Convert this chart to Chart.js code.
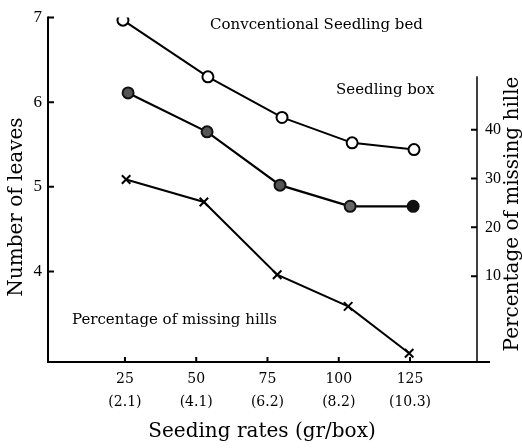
<!DOCTYPE html>
<html lang="en">
<head>
  <meta charset="UTF-8">
  <title>Seeding rates</title>
  <script src="https://cdn.jsdelivr.net/npm/chart.js"></script>
  <style>
    body { margin: 0; background: #fff; }
    #wrap { width: 522px; height: 448px; }
  </style>
</head>
<body>
  <div id="wrap"><canvas id="leafChart"></canvas></div>

  <script>
    // seeding rates (gr/box) and the same in brackets
    const rates = [25, 50, 75, 100, 125];
    const rateLabels = ['(2.1)', '(4.1)', '(6.2)', '(8.2)', '(10.3)'];
    const leafTicks = [4, 5, 6, 7];
    const missTicks = [10, 20, 30, 40];

    // points sit a little off the ticks in the original, so each series keeps its own x
    const bedX = [24.3, 54.1, 80.1, 104.7, 126.4];
    const bedLeaves = [6.97, 6.30, 5.82, 5.52, 5.44];

    const boxX = [26.1, 53.8, 79.4, 104.0, 126.1];
    const boxLeaves = [6.11, 5.65, 5.02, 4.77, 4.77];

    const missX = [25.4, 52.7, 78.4, 103.3, 124.7];
    const missHills = [29.8, 25.2, 10.3, 3.8, -5.8];

    const rightAxisTop = 51;
    const serif = '"DejaVu Serif", "Liberation Serif", serif';
    const times = '"Liberation Serif", serif';

    const pts = (xs, ys) => xs.map((x, i) => ({ x: x, y: ys[i] }));

    const axesPlugin = {
      id: 'axes',
      afterDraw(chart) {
        const ctx = chart.ctx;
        const a = chart.chartArea;
        const x = chart.scales.x, y = chart.scales.y, y2 = chart.scales.y2;
        ctx.save();
        ctx.strokeStyle = '#000';
        ctx.lineCap = 'butt';

        // axis lines
        ctx.lineWidth = 2;
        ctx.beginPath();
        ctx.moveTo(a.left, a.top - 1);
        ctx.lineTo(a.left, a.bottom);
        ctx.lineTo(a.right + 13, a.bottom);
        ctx.stroke();
        ctx.lineWidth = 1.5;
        ctx.beginPath();
        ctx.moveTo(a.right, y2.getPixelForValue(rightAxisTop));
        ctx.lineTo(a.right, a.bottom);
        ctx.stroke();

        // inward tick marks
        ctx.lineWidth = 2;
        ctx.beginPath();
        leafTicks.forEach(v => {
          const p = y.getPixelForValue(v);
          ctx.moveTo(a.left, p); ctx.lineTo(a.left + 6, p);
        });
        rates.forEach(v => {
          const p = x.getPixelForValue(v);
          ctx.moveTo(p, a.bottom); ctx.lineTo(p, a.bottom - 5);
        });
        missTicks.forEach(v => {
          const p = y2.getPixelForValue(v);
          ctx.moveTo(a.right, p); ctx.lineTo(a.right - 6, p);
        });
        ctx.stroke();

        // axis titles
        ctx.fillStyle = '#000';
        ctx.textAlign = 'center';
        ctx.textBaseline = 'middle';
        ctx.font = '20px ' + serif;
        ctx.fillText('Seeding rates (gr/box)', 262, 432);
        ctx.save();
        ctx.translate(17, 207);
        ctx.rotate(-Math.PI / 2);
        ctx.fillText('Number of leaves', 0, 0);
        ctx.restore();
        ctx.save();
        ctx.translate(513, 214);
        ctx.rotate(-Math.PI / 2);
        ctx.fillText('Percentage of missing hille', 0, 0);
        ctx.restore();

        // series notes
        ctx.font = '15px ' + serif;
        ctx.textAlign = 'left';
        ctx.fillText('Convcentional Seedling bed', 210, 25);
        ctx.fillText('Seedling box', 336, 90);
        ctx.fillText('Percentage of missing hills', 72, 320);
        ctx.restore();
      }
    };

    new Chart(document.getElementById('leafChart'), {
      type: 'scatter',
      data: {
        datasets: [{
          label: 'Conventional Seedling bed',
          data: pts(bedX, bedLeaves),
          showLine: true,
          borderColor: '#000',
          borderWidth: 2,
          pointRadius: 5.5,
          pointBorderWidth: 2,
          pointBackgroundColor: '#fff',
          pointBorderColor: '#000',
          yAxisID: 'y'
        }, {
          label: 'Seedling box',
          data: pts(boxX, boxLeaves),
          showLine: true,
          borderColor: '#000',
          borderWidth: 2.2,
          pointRadius: 5.5,
          pointBorderWidth: 2,
          pointBackgroundColor: ['#555', '#555', '#555', '#666', '#111'],
          pointBorderColor: '#111',
          yAxisID: 'y'
        }, {
          label: 'Percentage of missing hills',
          data: pts(missX, missHills),
          showLine: true,
          borderColor: '#000',
          borderWidth: 2,
          pointStyle: 'crossRot',
          pointRadius: 6,
          pointBorderWidth: 2,
          pointBorderColor: '#000',
          yAxisID: 'y2'
        }]
      },
      options: {
        responsive: true,
        maintainAspectRatio: false,
        animation: false,
        layout: { padding: { top: 11, left: 0, right: 0, bottom: 0 } },
        plugins: { legend: { display: false }, tooltip: { enabled: false } },
        scales: {
          x: {
            type: 'linear',
            min: -2,
            max: 148.5,
            afterBuildTicks: s => { s.ticks = rates.map(v => ({ value: v })); },
            afterFit: s => { s.height = 86; },
            grid: { display: false, drawTicks: false },
            border: { display: false },
            ticks: {
              color: '#000',
              padding: 5,
              autoSkip: false,
              maxRotation: 0,
              font: { family: serif, size: 14, lineHeight: 1.7 },
              callback: v => [String(v), rateLabels[rates.indexOf(v)]]
            }
          },
          y: {
            position: 'left',
            min: 2.93,
            max: 7.0,
            afterBuildTicks: s => { s.ticks = leafTicks.map(v => ({ value: v })); },
            afterFit: s => { s.width = 48; },
            grid: { display: false, drawTicks: false },
            border: { display: false },
            ticks: { color: '#000', padding: 6, font: { family: times, size: 17 } }
          },
          y2: {
            position: 'right',
            min: -7.6,
            max: 63,
            afterBuildTicks: s => { s.ticks = missTicks.map(v => ({ value: v })); },
            afterFit: s => { s.width = 45; },
            grid: { display: false, drawTicks: false },
            border: { display: false },
            ticks: { color: '#000', padding: 8, font: { family: times, size: 16 } }
          }
        }
      },
      plugins: [axesPlugin]
    });
  </script>
</body>
</html>
